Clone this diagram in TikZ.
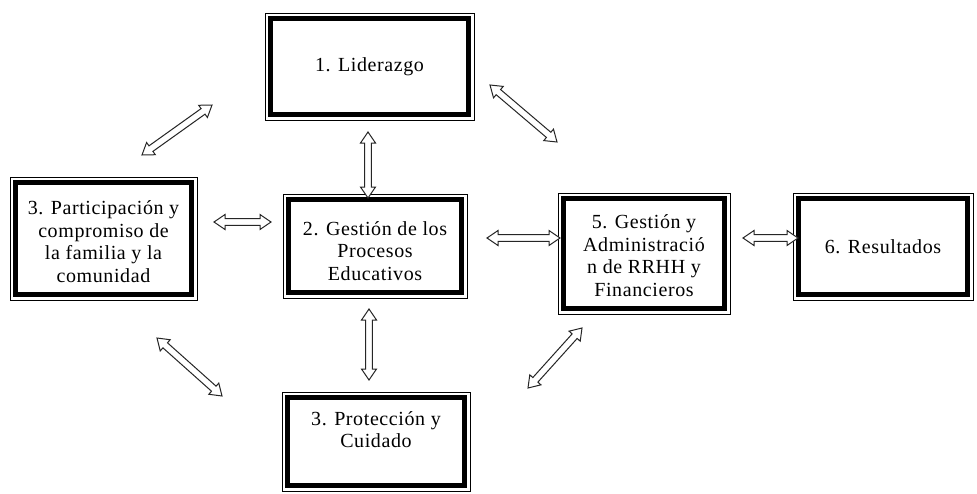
\documentclass[tikz,border=0pt]{standalone}
\usepackage{fontspec}
\setmainfont[LetterSpace=3]{Liberation Serif}
\usetikzlibrary{calc}
\tikzset{
  boxnode/.style={draw=black, line width=0.9pt, fill=white, inner sep=0pt},
  boxtext/.style={align=center, inner sep=0pt, font=\fontsize{20}{22.5}\selectfont},
  innerframe/.style={draw=black, line width=4.5pt},
  hollowarrow/.style={draw=black!85, line width=1pt, fill=white, line join=miter},
}
\newcommand\framedbox[7]{% name, cx, cy, w, h, text, text offset
  \node[boxnode, minimum width=#4pt, minimum height=#5pt] (#1) at (#2,#3) {};
  \draw[innerframe] ([shift={(6,6)}]#1.north west) rectangle ([shift={(-6,-6)}]#1.south east);
  \node[boxtext] (#1text) at ([yshift=#7]#1.center) {#6};
}
\def\hl{11pt}\def\hw{7.5pt}\def\sw{3.4pt}
\newcommand\dblarrow[2]{%
  \draw[hollowarrow] (#1) -- ($(#1)!\hl!(#2)!\hw!90:(#2)$) -- ($(#1)!\hl!(#2)!\sw!90:(#2)$)
    -- ($(#2)!\hl!(#1)!\sw!-90:(#1)$) -- ($(#2)!\hl!(#1)!\hw!-90:(#1)$) -- (#2)
    -- ($(#2)!\hl!(#1)!\hw!90:(#1)$) -- ($(#2)!\hl!(#1)!\sw!90:(#1)$)
    -- ($(#1)!\hl!(#2)!\sw!-90:(#2)$) -- ($(#1)!\hl!(#2)!\hw!-90:(#2)$) -- cycle;
}
\begin{document}
\begin{tikzpicture}[x=1pt, y=-1pt]
  \useasboundingbox[fill=white] (0,0) rectangle (977,493);
  \framedbox{lid}{369.5}{66.5}{209}{107}{1. Liderazgo}{0}
  \framedbox{par}{103.5}{238.5}{187}{123}{3. Participación y\\compromiso de\\la familia y la\\comunidad}{-3}
  \framedbox{ges}{375}{246}{184}{104}{2. Gestión de los\\Procesos\\Educativos}{-5}
  \framedbox{adm}{644}{253.5}{172}{121}{5. Gestión y\\Administració\\n de RRHH y\\Financieros}{-2}
  \framedbox{res}{883}{246.5}{180}{107}{6. Resultados}{0}
  \framedbox{pro}{376}{441.5}{188}{99}{3. Protección y\\Cuidado}{12}

  \coordinate (v1a) at (368,132); \coordinate (v1b) at (368,198);
  \coordinate (tla) at (142,155); \coordinate (tlb) at (212,105);
  \coordinate (tra) at (490,85);  \coordinate (trb) at (557,142);
  \coordinate (h1a) at (214,222); \coordinate (h1b) at (271,222);
  \coordinate (h2a) at (487,238); \coordinate (h2b) at (560,238);
  \coordinate (h3a) at (743,238); \coordinate (h3b) at (798,238);
  \coordinate (v2a) at (369,309); \coordinate (v2b) at (369,380);
  \coordinate (bla) at (157,338); \coordinate (blb) at (222,396);
  \coordinate (bra) at (528,388); \coordinate (brb) at (582,328);

  \dblarrow{v1a}{v1b}
  \dblarrow{tla}{tlb}
  \dblarrow{tra}{trb}
  \dblarrow{h1a}{h1b}
  \dblarrow{h2a}{h2b}
  \dblarrow{h3a}{h3b}
  \dblarrow{v2a}{v2b}
  \dblarrow{bla}{blb}
  \dblarrow{bra}{brb}
\end{tikzpicture}
\end{document}
